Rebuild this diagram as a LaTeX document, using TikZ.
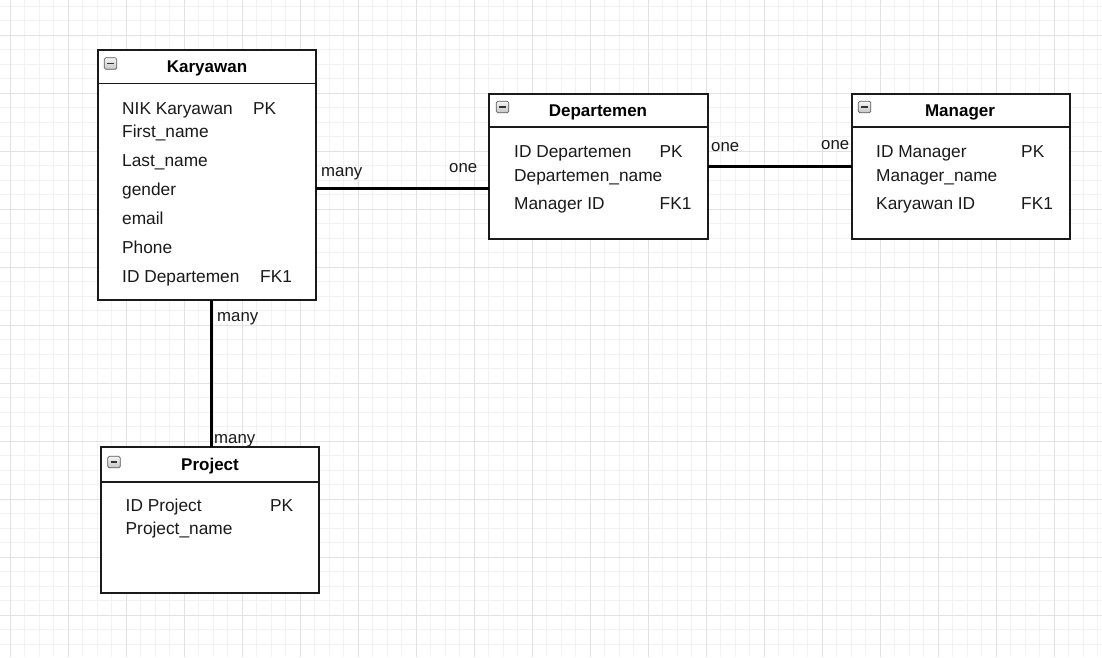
\documentclass[tikz,border=0pt]{standalone}
\usepackage{fontspec}
\setmainfont{Liberation Sans}
\definecolor{gridminor}{HTML}{F2F2F2}
\definecolor{gridmajor}{HTML}{E2E2E2}
\definecolor{edgecol}{HTML}{1A1A1A}
\tikzset{
  entity/.style={draw=edgecol, line width=2pt, fill=white, rectangle, inner sep=0pt, outer sep=0pt, anchor=north west},
  hdrline/.style={draw=edgecol, line width=1.7pt},
  etitle/.style={font=\fontsize{17}{20}\selectfont\bfseries, anchor=base, inner sep=0pt, text=black},
  attr/.style={font=\fontsize{17.3}{20}\selectfont, anchor=base west, inner sep=0pt, text=black!90},
  card/.style={font=\fontsize{16.8}{20}\selectfont, anchor=base west, inner sep=0pt, text=black!90},
  rel/.style={draw=black, line width=3pt},
  minusicon/.style={draw=gray!70!black, line width=0.7pt, rounded corners=1.5pt, minimum width=12.5pt, minimum height=11.5pt, inner sep=0pt, top color=gray!8, bottom color=gray!45,
    path picture={\draw[black!80, line width=1.5pt] ([xshift=3pt]path picture bounding box.west) -- ([xshift=-3pt]path picture bounding box.east);}},
}
\begin{document}
\begin{tikzpicture}[x=1pt,y=-1pt]
\useasboundingbox (0,0) rectangle (1102,657);
\fill[white] (0,0) rectangle (1102,657);
% grid
\foreach \k in {0,...,75} {
  \pgfmathsetmacro{\xx}{10+14.5*\k}
  \draw[gridminor, line width=0.8pt] (\xx,0) -- (\xx,657);
}
\foreach \k in {0,...,45} {
  \pgfmathsetmacro{\yy}{6+14.5*\k}
  \draw[gridminor, line width=0.8pt] (0,\yy) -- (1102,\yy);
}
\foreach \k in {0,...,18} {
  \pgfmathsetmacro{\xx}{10+58*\k}
  \draw[gridmajor, line width=0.9pt] (\xx,0) -- (\xx,657);
}
\foreach \k in {0,...,11} {
  \pgfmathsetmacro{\yy}{35+58*\k}
  \draw[gridmajor, line width=0.9pt] (0,\yy) -- (1102,\yy);
}

% entity boxes
\node[entity, minimum width=218pt, minimum height=250pt] (kar) at (98,50) {};
\node[entity, minimum width=219pt, minimum height=145pt] (dep) at (489,94) {};
\node[entity, minimum width=218pt, minimum height=145pt] (man) at (852,94) {};
\node[entity, minimum width=218pt, minimum height=146pt] (pro) at (101,447) {};

% header separators
\path (kar.north west) ++(0,33.5) coordinate (karh);
\draw[hdrline] (karh) -- (karh -| kar.east);
\path (dep.north west) ++(0,33) coordinate (deph);
\draw[hdrline] (deph) -- (deph -| dep.east);
\path (man.north west) ++(0,33) coordinate (manh);
\draw[hdrline] (manh) -- (manh -| man.east);
\path (pro.north west) ++(0,35) coordinate (proh);
\draw[hdrline] (proh) -- (proh -| pro.east);

% minus icons
\node[minusicon] (karicon) at (110.5,63.5) {};
\node[minusicon] (depicon) at (502.5,107) {};
\node[minusicon] (manicon) at (864.5,107) {};
\node[minusicon] (proicon) at (114,462) {};

% titles
\node[etitle] (kart) at (207,72.3) {Karyawan};
\node[etitle] (dept) at (598,116.5) {Departemen};
\node[etitle] (mant) at (960,116.5) {Manager};
\node[etitle] (prot) at (210,470.5) {Project};

% Karyawan attributes
\node[attr] (k1) at (122,114) {NIK Karyawan};
\node[attr] (k1k) at (253,114) {PK};
\node[attr] (k2) at (122,137) {First\_name};
\node[attr] (k3) at (122,166) {Last\_name};
\node[attr] (k4) at (122,195) {gender};
\node[attr] (k5) at (122,224) {email};
\node[attr] (k6) at (122,253) {Phone};
\node[attr] (k7) at (122,282) {ID Departemen};
\node[attr] (k7k) at (260,282) {FK1};

% Departemen attributes
\node[attr] (d1) at (514,157) {ID Departemen};
\node[attr] (d1k) at (659.5,157) {PK};
\node[attr] (d2) at (514,181) {Departemen\_name};
\node[attr] (d3) at (514,209.5) {Manager ID};
\node[attr] (d3k) at (659.5,209.5) {FK1};

% Manager attributes
\node[attr] (m1) at (876,157) {ID Manager};
\node[attr] (m1k) at (1021,157) {PK};
\node[attr] (m2) at (876,181) {Manager\_name};
\node[attr] (m3) at (876,209.5) {Karyawan ID};
\node[attr] (m3k) at (1021,209.5) {FK1};

% Project attributes
\node[attr] (p1) at (125.5,511) {ID Project};
\node[attr] (p1k) at (270,511) {PK};
\node[attr] (p2) at (125.5,534) {Project\_name};

% relationships
\path (kar.north east) ++(0,138) coordinate (kdA);
\draw[rel] (kdA) -- (kdA -| dep.west);
\path (dep.north east) ++(0,72) coordinate (dmA);
\draw[rel] (dmA) -- (dmA -| man.west);
\path (kar.south west) ++(113.5,0) coordinate (kpA);
\draw[rel] (kpA) -- (kpA |- pro.north);

% cardinalities
\node[card] (c1) at (321,176) {many};
\node[card] (c2) at (449,172) {one};
\node[card] (c3) at (711,151.5) {one};
\node[card] (c4) at (821,149) {one};
\node[card] (c5) at (217,321) {many};
\node[card] (c6) at (214,443) {many};
\end{tikzpicture}
\end{document}
